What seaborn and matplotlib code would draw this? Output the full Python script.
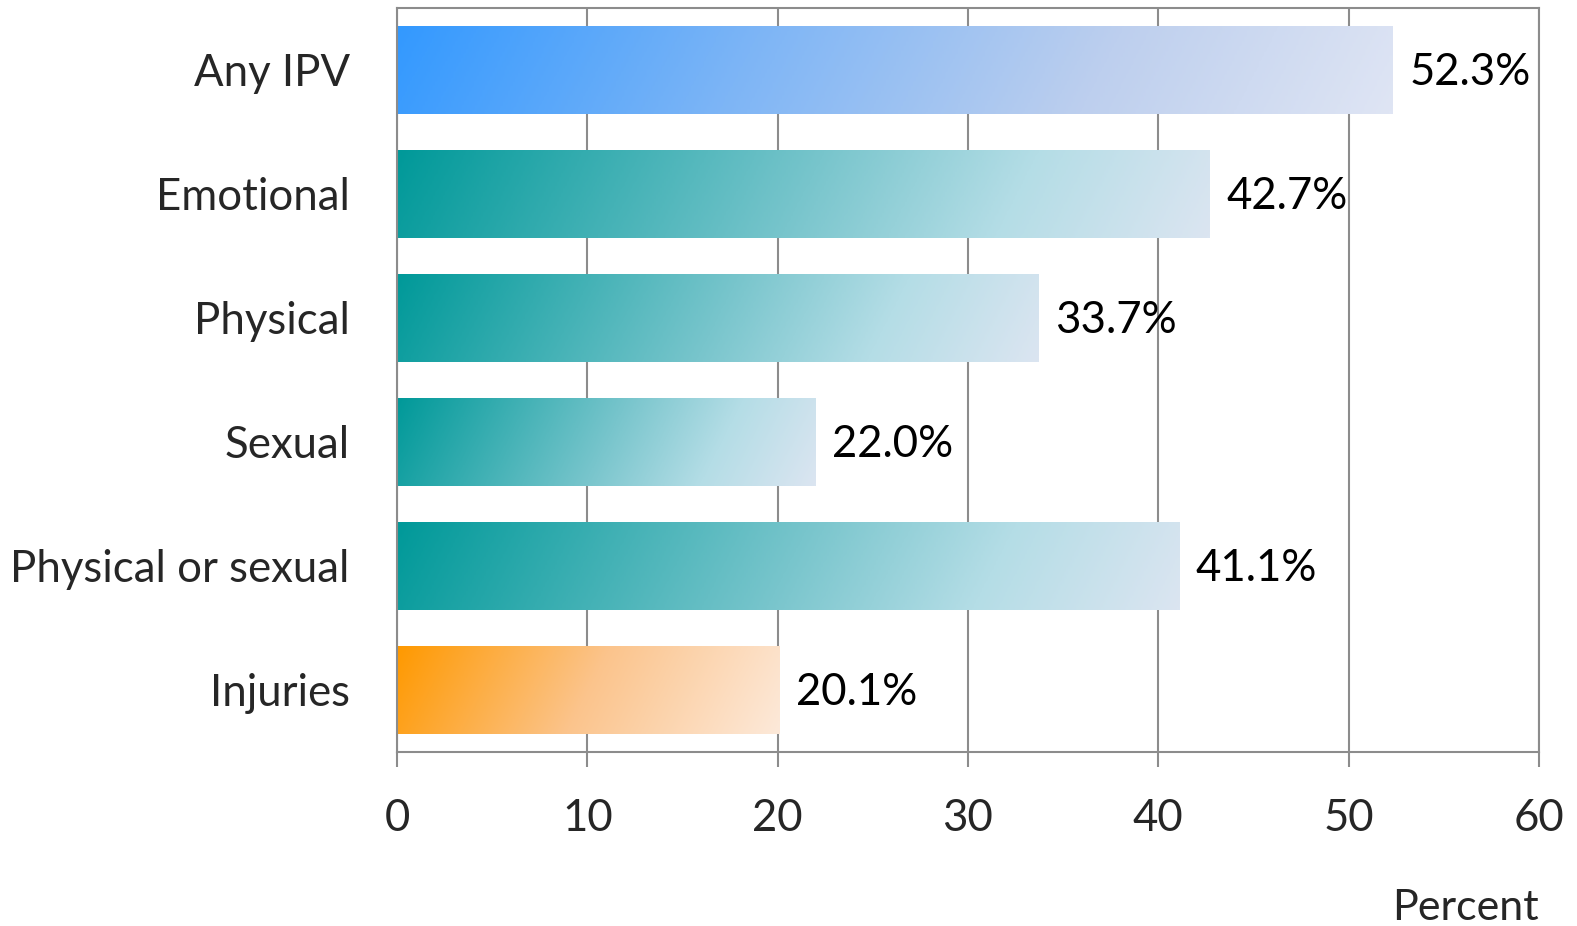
import numpy as np
import pandas as pd
import seaborn as sns
import matplotlib
matplotlib.use("Agg")
import matplotlib.pyplot as plt
from matplotlib.colors import LinearSegmentedColormap

# chart data
categories = ["Any IPV", "Emotional", "Physical", "Sexual", "Physical or sexual", "Injuries"]
percents = [52.3, 42.7, 33.7, 22.0, 41.1, 20.1]
fill_style = ["blue", "teal", "teal", "teal", "teal", "orange"]
x_ticks = [0, 10, 20, 30, 40, 50, 60]

# gradient stops per fill style
gradients = {
    "blue": [(0.0, "#3399FF"), (0.35, "#7DB5F6"), (0.7, "#BDCFEE"), (1.0, "#DFE5F4")],
    "teal": [(0.0, "#009999"), (0.5, "#78C5CC"), (0.75, "#B4DDE6"), (1.0, "#DBE5F1")],
    "orange": [(0.0, "#FF9900"), (0.5, "#FBC48C"), (1.0, "#FDE9D9")],
}

df = pd.DataFrame({"category": categories, "percent": percents})

sns.set_style("white")
plt.rcParams["font.family"] = ["Lato", "DejaVu Sans"]

W, H = 1577, 926
fig = plt.figure(figsize=(W / 100, H / 100), dpi=100)
left, right, top, bottom = 397 / W, 1539 / W, 1 - 8 / H, 1 - 752 / H
ax = fig.add_axes([left, bottom, right - left, top - bottom])

bar_w = 0.715
sns.barplot(data=df, x="percent", y="category", orient="h", width=bar_w,
            color="#888888", ax=ax, zorder=2)

ax_px_w = (right - left) * W
ax_px_h = (top - bottom) * H
grey = "#8C8C8C"

# paint each bar with a diagonal gradient clipped to the bar shape
for patch, style in zip(ax.patches, fill_style):
    x0, y0 = patch.get_x(), patch.get_y()
    w, h = patch.get_width(), patch.get_height()
    pw = w / 60 * ax_px_w
    ph = h / 6 * ax_px_h
    u = np.linspace(0, 1, 400)[None, :] * pw
    v = np.linspace(0, 1, 40)[:, None] * ph
    t = (u + 0.5 * v) / (pw + 0.5 * ph)
    cmap = LinearSegmentedColormap.from_list(style, gradients[style])
    img = ax.imshow(t, cmap=cmap, vmin=0, vmax=1, extent=(x0, x0 + w, y0 + h, y0),
                    origin="upper", aspect="auto", interpolation="bilinear", zorder=2)
    img.set_clip_path(patch)
    patch.set_facecolor("none")
    patch.set_edgecolor("none")

for cont in ax.containers:
    labels = ax.bar_label(cont, fmt="%.1f%%", padding=12, fontsize=31.5, color="black")
    for lb in labels:
        lb.xyann = (12, -2)

ax.set_xlim(0, 60)
ax.set_ylim(5.5, -0.5)
ax.set_xticks(x_ticks)
ax.set_xticklabels([str(t) for t in x_ticks])

ax.grid(axis="x", color=grey, linewidth=1.5, zorder=0)
ax.set_axisbelow(True)
for sp in ax.spines.values():
    sp.set_visible(True)
    sp.set_color(grey)
    sp.set_linewidth(1.5)

ax.tick_params(axis="x", direction="out", length=11, width=1.5, color=grey,
               labelsize=31.5, pad=22, bottom=True)
ax.tick_params(axis="y", length=0, labelsize=31.5, pad=34)

ax.set_ylabel("")
ax.set_xlabel("Percent", loc="right", fontsize=31, labelpad=36)

fig.savefig("out.png", dpi=100)
